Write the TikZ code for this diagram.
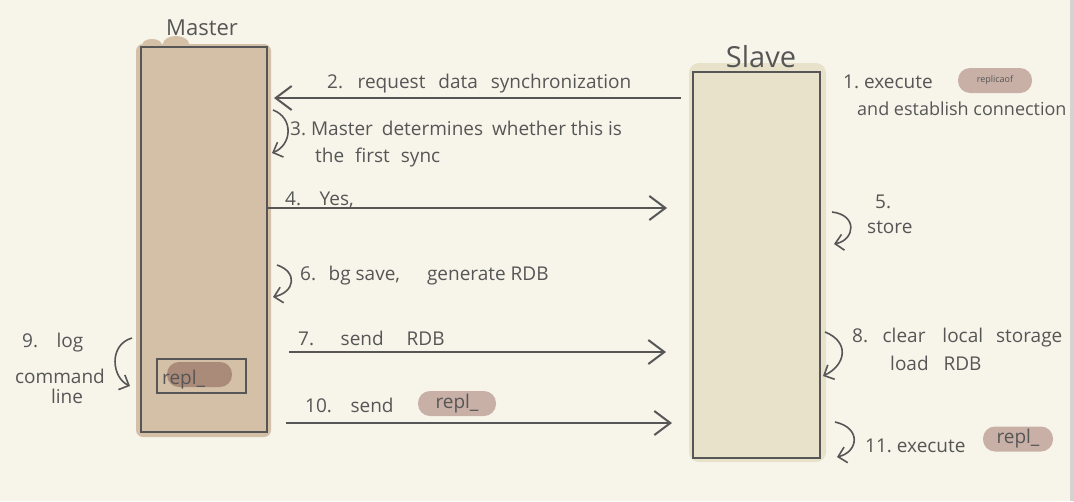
\documentclass[tikz,border=0pt]{standalone}
\usepackage{fontspec}
\setmainfont{Open Sans}
\usetikzlibrary{arrows.meta,positioning,calc}
\definecolor{paper}{HTML}{F7F5EA}
\definecolor{ink}{HTML}{565656}
\definecolor{mtan}{HTML}{D4C0A6}
\definecolor{stan}{HTML}{E8E2CA}
\definecolor{pillc}{HTML}{C9B0A6}
\definecolor{pilldark}{HTML}{AA8B79}
\definecolor{edgegray}{HTML}{D3D3CF}
\newcommand{\wgap}[1]{\hspace{#1pt}}

\begin{document}
\begin{tikzpicture}[x=1pt,y=-1pt,
  box/.style={draw=ink,line width=2pt,inner sep=0pt},
  masterbox/.style={box,fill=mtan,minimum width=126pt,minimum height=385pt},
  slavebox/.style={box,fill=stan,minimum width=127pt,minimum height=386pt},
  msg/.style={draw=ink,line width=2.2pt,-{Straight Barb[length=16pt,width=24pt,line width=2pt]}},
  loopy/.style={draw=ink,line width=1.6pt,-{Straight Barb[length=8pt,width=16pt,line width=1.6pt]}},
  lbl/.style={anchor=base west,inner sep=0pt,text=ink,font=\fontsize{19}{22}\selectfont},
  title/.style={anchor=base,inner sep=0pt,text=ink},
  pill/.style={rounded corners=12pt,fill=pillc,inner sep=0pt,minimum height=25pt,text=ink,font=\fontsize{19}{22}\selectfont}
]
  \useasboundingbox (0,0) rectangle (1074,501);
  \fill[paper] (0,0) rectangle (1074,501);
  \fill[edgegray] (1070,0) rectangle (1074,501);

  % smudges behind the boxes
  \fill[mtan,rounded corners=7pt] (136,44) rectangle (271,437);
  \fill[mtan] (152,45) ellipse (10pt and 6pt);
  \fill[mtan] (176,44) ellipse (13pt and 8pt);
  \fill[stan,rounded corners=10pt] (689,63) rectangle (826,462);

  % the two servers
  \node[masterbox] (master) at (204,239.5) {};
  \node[slavebox] (slave) at (756.5,265) {};
  \node[title,font=\fontsize{22}{24}\selectfont] (mtitle) at (202,35) {Master};
  \node[title,font=\fontsize{29}{30}\selectfont] (stitle) at (761,67) {Slave};

  % backlog inside master
  \node[box,fill=none,line width=1.6pt,minimum width=89pt,minimum height=34pt] (backlog) at (201.5,376) {};
  \node[pill,fill=pilldark,minimum width=65pt] (blpill) at (199.5,374.5) {};
  \node[lbl] (bltext) at (162,384) {repl\_};

  % message levels
  \coordinate (y2) at (0,98);
  \coordinate (y4) at (0,208);
  \coordinate (y7) at (0,352);
  \coordinate (y10) at (0,423);

  \draw[msg] ($(slave.west |- y2)+(-11,0)$) -- ($(master.east |- y2)+(6,0)$);
  \draw[msg] (master.east |- y4) -- ($(slave.west |- y4)+(-25,0)$);
  \draw[msg] ($(master.east |- y7)+(21,0)$) -- ($(slave.west |- y7)+(-26,0)$);
  \draw[msg] ($(master.east |- y10)+(18,0)$) -- ($(slave.west |- y10)+(-20,0)$);

  % labels
  \node[lbl] (t1) at (843,88) {1.\ execute};
  \node[pill,minimum width=74pt,font=\fontsize{9}{10}\selectfont] (p1) at (995,80.5) {replicaof};
  \node[lbl,font=\fontsize{18}{21}\selectfont] (t1b) at (857,115) {and establish connection};
  \node[lbl] (t2) at (327,88) {2.\wgap{8} request\wgap{8} data\wgap{8} synchronization};
  \node[lbl] (t3) at (290,135) {3.\ Master\wgap{4} determines\wgap{4} whether this is};
  \node[lbl] (t3b) at (315,162) {the\wgap{6} first\wgap{6} sync};
  \node[lbl] (t4) at (285,205) {4.\wgap{12} Yes,};
  \node[lbl] (t5) at (875,208) {5.};
  \node[lbl] (t5b) at (867,233) {store};
  \node[lbl] (t6) at (300,280) {6.\wgap{6} bg save,\wgap{22} generate RDB};
  \node[lbl] (t7) at (298,345) {7.\wgap{20} send\wgap{18} RDB};
  \node[lbl] (t8) at (852,342) {8.\wgap{8} clear\wgap{12} local\wgap{8} storage};
  \node[lbl] (t8b) at (890,370) {load\wgap{10} RDB};
  \node[lbl,anchor=base west] (t9) at (22,347) {9.\wgap{12} log};
  \node[lbl,anchor=base] (t9b) at (60,383) {command};
  \node[lbl,anchor=base] (t9c) at (67,403) {line};
  \node[lbl] (t10) at (305,412) {10.\wgap{12} send};
  \node[pill,minimum width=78pt] (p10) at (457,403.5) {repl\_};
  \node[lbl] (t11) at (865,452) {11.\ execute};
  \node[pill,minimum width=70pt] (p11) at (1018,439) {repl\_};

  % self steps
  \coordinate (c3a) at (273,110);  \coordinate (c3b) at (272,153);
  \coordinate (c5a) at (832,212);  \coordinate (c5b) at (834,244);
  \coordinate (c6a) at (277,265);  \coordinate (c6b) at (273,297);
  \coordinate (c8a) at (825,332);  \coordinate (c8b) at (823,376);
  \coordinate (c9a) at (132,338);  \coordinate (c9b) at (130,386);
  \coordinate (c11a) at (835,422); \coordinate (c11b) at (837,457);
  \draw[loopy] (c3a) .. controls (294,118) and (292,145) .. (c3b);
  \draw[loopy] (c5a) .. controls (858,215) and (855,240) .. (c5b);
  \draw[loopy] (c6a) .. controls (298,272) and (295,292) .. (c6b);
  \draw[loopy] (c8a) .. controls (850,342) and (846,365) .. (c8b);
  \draw[loopy] (c9a) .. controls (108,345) and (112,378) .. (c9b);
  \draw[loopy] (c11a) .. controls (862,428) and (858,452) .. (c11b);
\end{tikzpicture}
\end{document}
